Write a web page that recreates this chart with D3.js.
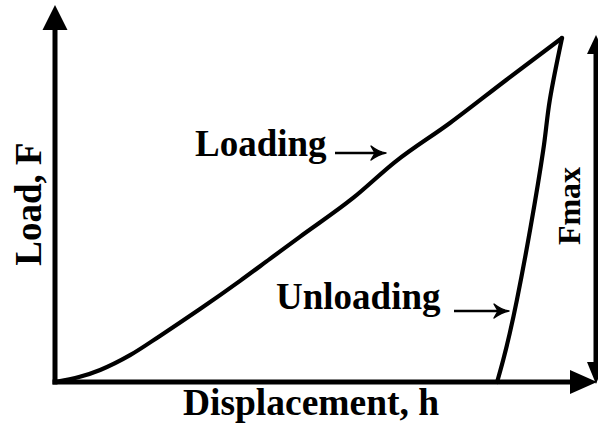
<!DOCTYPE html>
<html>
<head>
<meta charset="utf-8">
<script src="https://cdn.jsdelivr.net/npm/d3@7"></script>
<style>
  html, body { margin: 0; padding: 0; background: #fff; }
  svg { display: block; }
  text { font-family: "Liberation Serif", "Times New Roman", serif; font-weight: bold; fill: #000; }
</style>
</head>
<body>
<svg id="chart" width="598" height="428"></svg>
<script>
// ---- data (normalised: h and F in % of their maxima) ----
const loadH   = [0, 4.9, 8.9, 14.8, 20.7, 28.6, 36.5, 42.4, 48.3, 58.8, 67.1, 77.9, 89, 100];
const loadF   = [0, 1.5, 3.5, 7.8, 13.4, 21.2, 29.4, 35.8, 42.2, 53.5, 64.0, 75.3, 87.8, 100];
const unloadH = [100, 97.6, 96.3, 93.8, 91.1, 89.7, 88.4, 87.2];
const unloadF = [100, 82, 67.4, 45, 23.8, 14.2, 6.4, 0];
const xLabel = "Displacement, h";
const yLabel = "Load, F";
const maxLabel = "Fmax";
const curveLabels = ["Loading", "Unloading"];

const svg = d3.select("#chart");
const x = d3.scaleLinear().domain([0, 100]).range([55, 562]);
const y = d3.scaleLinear().domain([0, 100]).range([382, 38]);

// axes (plain lines with arrowheads)
const axisW = 5;
svg.append("line").attr("x1", x(0)).attr("x2", x(0)).attr("y1", y(0) + axisW / 2).attr("y2", 28)
  .attr("stroke", "#000").attr("stroke-width", axisW);
svg.append("path").attr("d", `M${x(0)},5 L${x(0) - 12.5},30 L${x(0) + 12.5},30 Z`).attr("fill", "#000");

svg.append("line").attr("x1", x(0) - axisW / 2).attr("x2", 572).attr("y1", y(0)).attr("y2", y(0))
  .attr("stroke", "#000").attr("stroke-width", axisW);
svg.append("path").attr("d", `M597,${y(0)} L570,${y(0) - 12} L570,${y(0) + 12} Z`).attr("fill", "#000");

// Fmax double arrow at right edge
const fx = 596;
svg.append("line").attr("x1", fx).attr("x2", fx).attr("y1", y(100) + 12).attr("y2", y(0) - 14)
  .attr("stroke", "#000").attr("stroke-width", 5);
svg.append("path").attr("d", `M${fx},${y(100) - 3} L${fx - 9},${y(100) + 16} L${fx + 9},${y(100) + 16} Z`).attr("fill", "#000");
svg.append("path").attr("d", `M${fx},${y(0) + 2} L${fx - 9},${y(0) - 20} L${fx + 9},${y(0) - 20} Z`).attr("fill", "#000");

// curves
const lineLoad = d3.line().x(d => x(d[0])).y(d => y(d[1])).curve(d3.curveMonotoneX);
const lineUnload = d3.line().x(d => x(d[0])).y(d => y(d[1])).curve(d3.curveCatmullRom.alpha(0.5));
svg.append("path").datum(loadH.map((h, i) => [h, loadF[i]]))
  .attr("d", lineLoad).attr("fill", "none").attr("stroke", "#000").attr("stroke-width", 4.2)
  .attr("stroke-linejoin", "round").attr("stroke-linecap", "round");
svg.append("path").datum(unloadH.map((h, i) => [h, unloadF[i]]))
  .attr("d", lineUnload).attr("fill", "none").attr("stroke", "#000").attr("stroke-width", 4.2)
  .attr("stroke-linejoin", "round").attr("stroke-linecap", "round");

// labels
svg.append("text").attr("x", 311).attr("y", 415).attr("text-anchor", "middle")
  .attr("font-size", 37.5).text(xLabel);
svg.append("text").attr("transform", "translate(41,204) rotate(-90)").attr("text-anchor", "middle")
  .attr("font-size", 37).text(yLabel);
svg.append("text").attr("transform", "translate(580,206) rotate(-90)").attr("text-anchor", "middle")
  .attr("font-size", 32).text(maxLabel);

svg.append("text").attr("x", 195).attr("y", 156).attr("font-size", 37).text(curveLabels[0]);
svg.append("text").attr("x", 276).attr("y", 309).attr("font-size", 37).text(curveLabels[1]);

// annotation arrows
function annArrow(x1, x2, yy) {
  svg.append("line").attr("x1", x1).attr("x2", x2 - 4).attr("y1", yy).attr("y2", yy)
    .attr("stroke", "#000").attr("stroke-width", 2.4);
  svg.append("path")
    .attr("d", `M${x2 - 15},${yy - 7} Q${x2 - 8},${yy - 1.5} ${x2},${yy} Q${x2 - 8},${yy + 1.5} ${x2 - 15},${yy + 7} L${x2 - 11},${yy} Z`)
    .attr("fill", "#000").attr("stroke", "#000").attr("stroke-width", 1.4).attr("stroke-linejoin", "round");
}
annArrow(335, 386, 153);
annArrow(454, 509, 311);
</script>
</body>
</html>
